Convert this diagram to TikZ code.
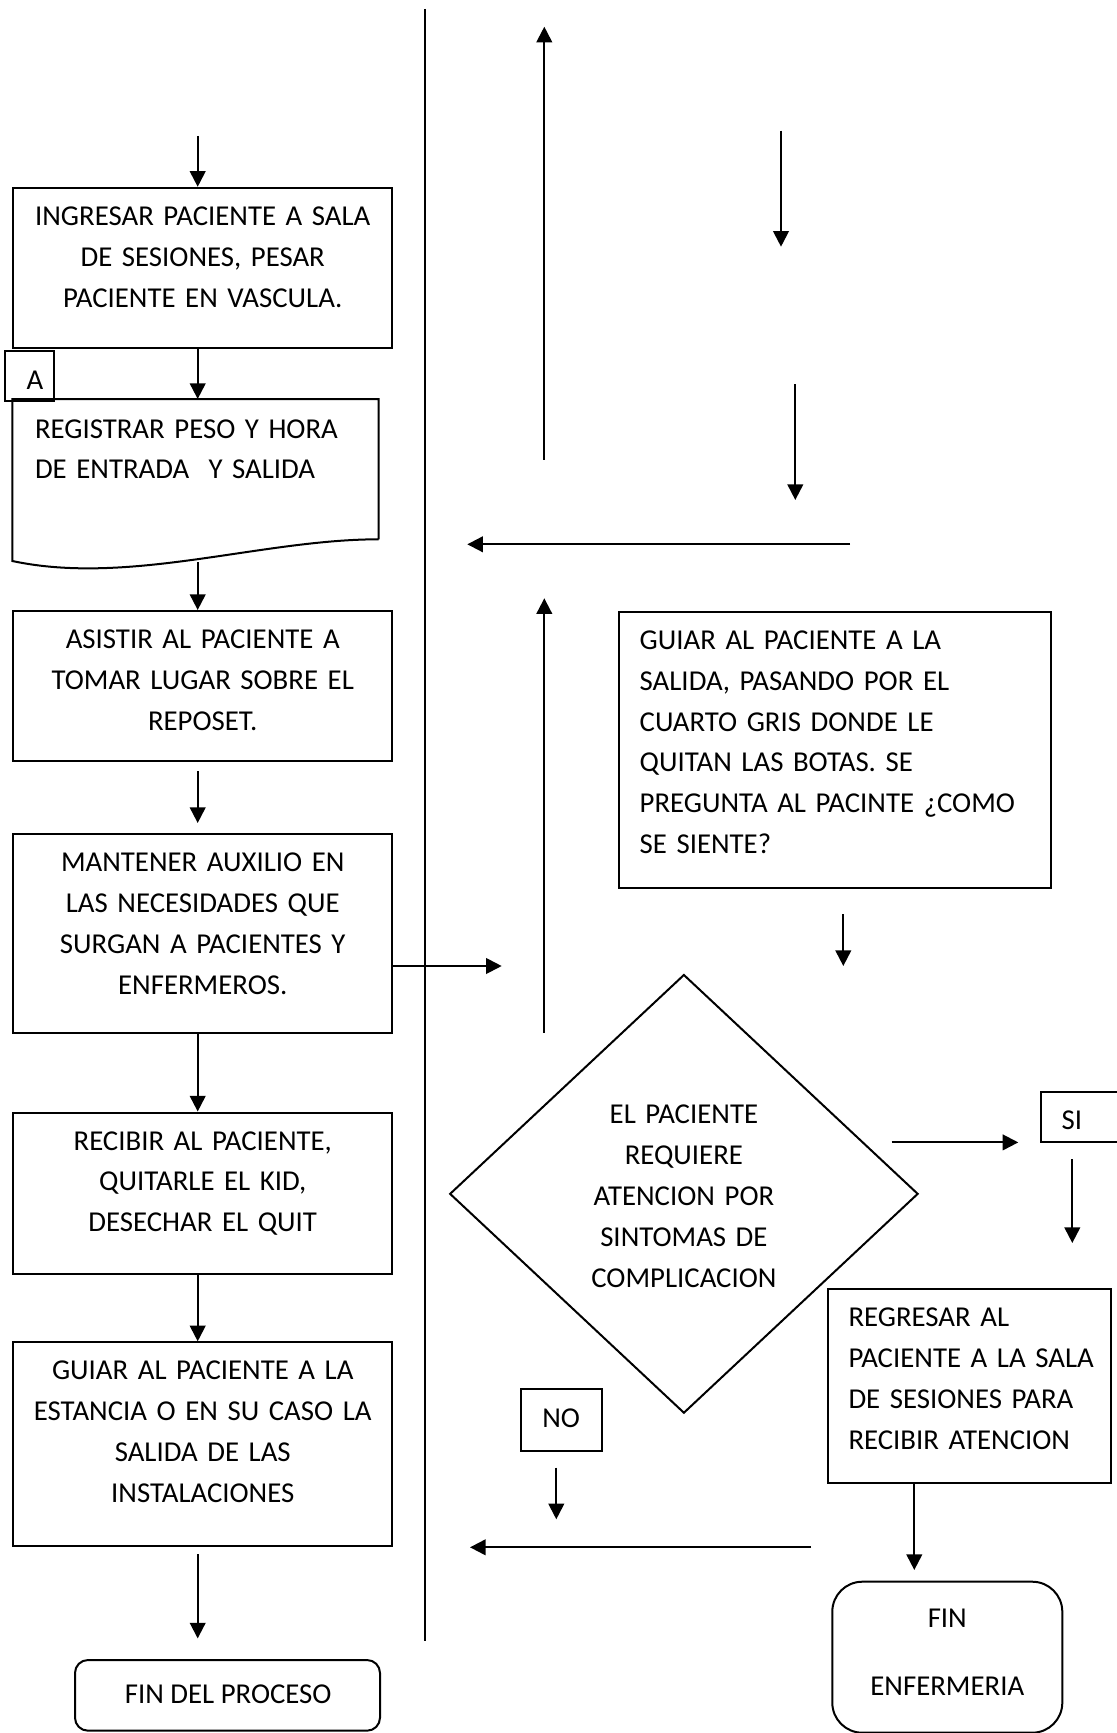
\documentclass[tikz,border=0pt]{standalone}
\usepackage{fontspec}
\setmainfont{Carlito}
\usetikzlibrary{arrows.meta,shapes.geometric}
\begin{document}
\begin{tikzpicture}[x=0.5pt,y=-0.5pt,
  line width=1pt,
  flow/.style={-{Triangle[length=7.8pt,width=7.8pt]}},
  frame/.style={draw, rectangle, inner sep=0pt},
  endbox/.style={draw, rectangle, rounded corners=#1, inner sep=0pt},
  txt/.style={inner sep=0pt, font=\fontsize{14.4}{20.45}\selectfont},
  ctxt/.style={txt, text width=185pt, align=center, anchor=base},
  ltxt/.style={txt, text width=205pt, align=left, anchor=base west},
]
\clip (0,0) rectangle (1117,1733);

% lane divider
\coordinate (divtop) at (425,9);
\coordinate (divbot) at (425,1641);
\draw[line width=1.2pt] (divtop) -- (divbot);

% ---- left lane ----
\node[frame, minimum width=189.45pt, minimum height=80.1pt] (B1) at (202.75,267.9) {};
\node[ctxt] (B1t) at ([yshift=-19.25pt]B1.north) {INGRESAR PACIENTE A SALA\\DE SESIONES, PESAR\\PACIENTE EN VASCULA.};

% document shape
\node[inner sep=0pt, minimum width=182.2pt, minimum height=69.15pt] (B2) at (195.5,469.15) {};
\draw (B2.south east) -- (B2.north east) -- (B2.north west) -- ([yshift=-10.85pt]B2.south west)
  .. controls +(116.7,25) and +(-117.7,0) .. (B2.south east);
\node[ltxt] (B2t) at ([xshift=10.85pt,yshift=-19.5pt]B2.north west) {REGISTRAR PESO Y HORA\\DE ENTRADA \ Y SALIDA};

\node[frame, minimum width=24.5pt, minimum height=25pt] (A) at (29.5,376) {};
\node[txt, anchor=base west] (At) at ([xshift=10.85pt,yshift=-19.5pt]A.north west) {A};

\node[frame, minimum width=189.45pt, minimum height=75.1pt] (B3) at (202.75,686.1) {};
\node[ctxt] (B3t) at ([yshift=-19.25pt]B3.north) {ASISTIR AL PACIENTE A\\TOMAR LUGAR SOBRE EL\\REPOSET.};

\node[frame, minimum width=189.45pt, minimum height=99.3pt] (B4) at (202.75,933.4) {};
\node[ctxt] (B4t) at ([yshift=-19.25pt]B4.north) {MANTENER AUXILIO EN\\LAS NECESIDADES QUE\\SURGAN A PACIENTES Y\\ENFERMEROS.};

\node[frame, minimum width=189.45pt, minimum height=80.65pt] (B5) at (202.75,1193.15) {};
\node[ctxt] (B5t) at ([yshift=-19.25pt]B5.north) {RECIBIR AL PACIENTE,\\QUITARLE EL KID,\\DESECHAR EL QUIT};

\node[frame, minimum width=189.45pt, minimum height=101.65pt] (B6) at (202.75,1443.95) {};
\node[ctxt] (B6t) at ([yshift=-19.25pt]B6.north) {GUIAR AL PACIENTE A LA\\ESTANCIA O EN SU CASO LA\\SALIDA DE LAS\\INSTALACIONES};

\node[endbox=6.5pt, minimum width=152.5pt, minimum height=35.35pt] (FIN1) at (227.5,1695.35) {};
\node[txt, anchor=base] (FIN1t) at ([xshift=0.35pt,yshift=-22pt]FIN1.north) {FIN DEL PROCESO};

% left lane arrows
\coordinate (inB1) at (197.7,136);
\draw[flow] (inB1) -- (inB1 |- B1.north);
\draw[flow] (B1.south -| inB1) -- (B2.north -| inB1);
\coordinate (wave) at (197.7,562);
\draw[flow] (wave) -- (B3.north -| wave);
\coordinate (a4s) at (197.7,771.1);
\coordinate (a4e) at (197.7,823);
\draw[flow] (a4s) -- (a4e);
\draw[flow] (B4.south -| inB1) -- (B5.north -| inB1);
\draw[flow] (B5.south -| inB1) -- (B6.north -| inB1);
\coordinate (a7s) at (197.7,1554.4);
\coordinate (a7e) at (197.7,1638.4);
\draw[flow] (a7s) -- (a7e);
\coordinate (toR) at (501.7,966);
\draw[flow] (B4.east |- toR) -- (toR);

% ---- right lane ----
\node[frame, minimum width=215.85pt, minimum height=138.25pt] (G) at (834.85,749.95) {};
\node[ltxt] (Gt) at ([xshift=10.35pt,yshift=-19.25pt]G.north west) {GUIAR AL PACIENTE A LA\\SALIDA, PASANDO POR EL\\CUARTO GRIS DONDE LE\\QUITAN LAS BOTAS. SE\\PREGUNTA AL PACINTE ¿COMO\\SE SIENTE?};

\node[diamond, draw, inner sep=0pt, minimum width=234.2pt, minimum height=219.3pt] (D) at (683.9,1193.85) {};
\node[ctxt] (Dt) at ([yshift=35.2pt]D.center) {EL PACIENTE\\REQUIERE\\ATENCION POR\\SINTOMAS DE\\COMPLICACION};

\node[frame, minimum width=49.65pt, minimum height=25pt] (SI) at (1090.35,1116.7) {};
\node[txt, anchor=base west] (SIt) at ([xshift=10.5pt,yshift=-19.2pt]SI.north west) {SI};

\node[frame, minimum width=141.55pt, minimum height=97pt] (REG) at (969.85,1386.3) {};
\node[ltxt] (REGt) at ([xshift=10.1pt,yshift=-19.25pt]REG.north west) {REGRESAR AL\\PACIENTE A LA SALA\\DE SESIONES PARA\\RECIBIR ATENCION};

\node[frame, minimum width=40.5pt, minimum height=31.15pt] (NO) at (561.2,1420.15) {};
\node[txt, anchor=base] (NOt) at ([yshift=-19.65pt]NO.north) {NO};

\node[endbox=15pt, minimum width=115pt, minimum height=75.5pt] (FIN2) at (947.3,1657.2) {};
\node[txt, font=\fontsize{14.4}{34.2}\selectfont, text width=110pt, align=center, anchor=base] (FIN2t) at ([yshift=-23.3pt]FIN2.north) {FIN\\ENFERMERIA};

% right lane arrows
\coordinate (up1s) at (544.3,459.6);
\coordinate (up1e) at (544.3,26.7);
\draw[flow] (up1s) -- (up1e);
\coordinate (up2s) at (544.3,1032.7);
\coordinate (up2e) at (544.3,598.3);
\draw[flow] (up2s) -- (up2e);
\coordinate (l1s) at (850,544.3);
\coordinate (l1e) at (467.3,544.3);
\draw[flow] (l1s) -- (l1e);
\coordinate (d1s) at (781,130.7);
\coordinate (d1e) at (781,246.7);
\draw[flow] (d1s) -- (d1e);
\coordinate (d2s) at (795.3,384);
\coordinate (d2e) at (795.3,500);
\draw[flow] (d2s) -- (d2e);
\coordinate (d3s) at (843.3,914);
\coordinate (d3e) at (843.3,966);
\draw[flow] (d3s) -- (d3e);
\coordinate (siS) at (891.6,1142.4);
\coordinate (siE) at (1018.3,1142.4);
\draw[flow] (siS) -- (siE);
\coordinate (sidS) at (1072.3,1159);
\coordinate (sidE) at (1072.3,1243);
\draw[flow] (sidS) -- (sidE);
\coordinate (regE) at (914.3,1570);
\draw[flow] (REG.south -| regE) -- (regE);
\coordinate (l2s) at (811,1547.3);
\coordinate (l2e) at (470,1547.3);
\draw[flow] (l2s) -- (l2e);
\coordinate (nos) at (556.3,1467.7);
\coordinate (noe) at (556.3,1519.3);
\draw[flow] (nos) -- (noe);
\end{tikzpicture}
\end{document}
